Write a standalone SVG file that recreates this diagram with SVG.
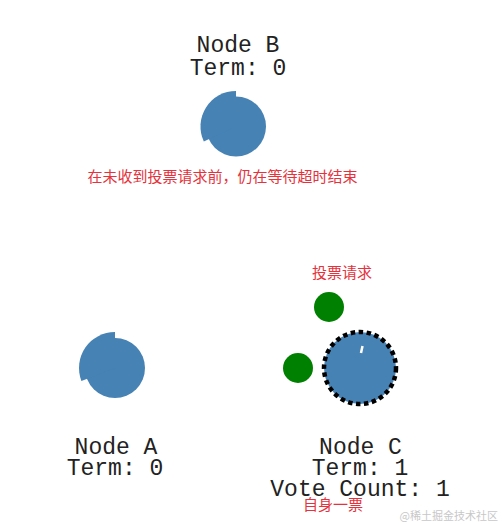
<svg xmlns="http://www.w3.org/2000/svg" width="504" height="524" viewBox="0 0 504 524">
<style>
.node{fill:#4682b4}
.lbl{font-family:"Liberation Mono","Courier New",monospace;font-size:23px;fill:#222;text-anchor:middle}
.note{font-family:"Noto Sans CJK SC","Noto Sans",sans-serif;font-size:15px;fill:#e5323c;text-anchor:middle}
.vote{fill:#008000}
</style>
<rect width="504" height="524" fill="#ffffff"/>
<g id="connectors"></g>
<g id="nodeB">
<circle class="node" cx="236" cy="126.5" r="30"/>
<path class="node" d="M236 126.5 L236 91 A35.5 35.5 0 0 0 203.8 141.5 Z"/>
<text class="lbl" x="238" y="52">Node B</text>
<text class="lbl" x="238" y="75">Term: 0</text>
</g>
<g id="nodeA">
<circle class="node" cx="115" cy="368" r="30"/>
<path class="node" d="M115 368 L115 332 A36 36 0 0 0 81.4 380.9 Z"/>
<text class="lbl" x="116" y="454">Node A</text>
<text class="lbl" x="115" y="475">Term: 0</text>
</g>
<g id="nodeC">
<circle class="node" cx="360" cy="368" r="36" stroke="#000" stroke-width="4.5" stroke-dasharray="4.5 3.5"/>
<line x1="362.5" y1="346" x2="361" y2="353" stroke="#fff" stroke-width="2.5"/>
<text class="lbl" x="360.5" y="454">Node C</text>
<text class="lbl" x="360" y="475">Term: 1</text>
<text class="lbl" x="360" y="496">Vote Count: 1</text>
</g>
<g id="vote1"><circle class="vote" cx="329" cy="307" r="15"/></g>
<g id="vote2"><circle class="vote" cx="298" cy="368" r="15"/></g>
<g id="notes">
<text class="note" x="222.5" y="182">在未收到投票请求前，仍在等待超时结束</text>
<text class="note" x="342" y="278">投票请求</text>
<text class="note" x="333" y="510">自身一票</text>
<text x="498" y="520" font-family="Noto Sans CJK SC,Noto Sans,sans-serif" font-size="11" fill="#c8c8c8" text-anchor="end">@稀土掘金技术社区</text>
</g>
</svg>
